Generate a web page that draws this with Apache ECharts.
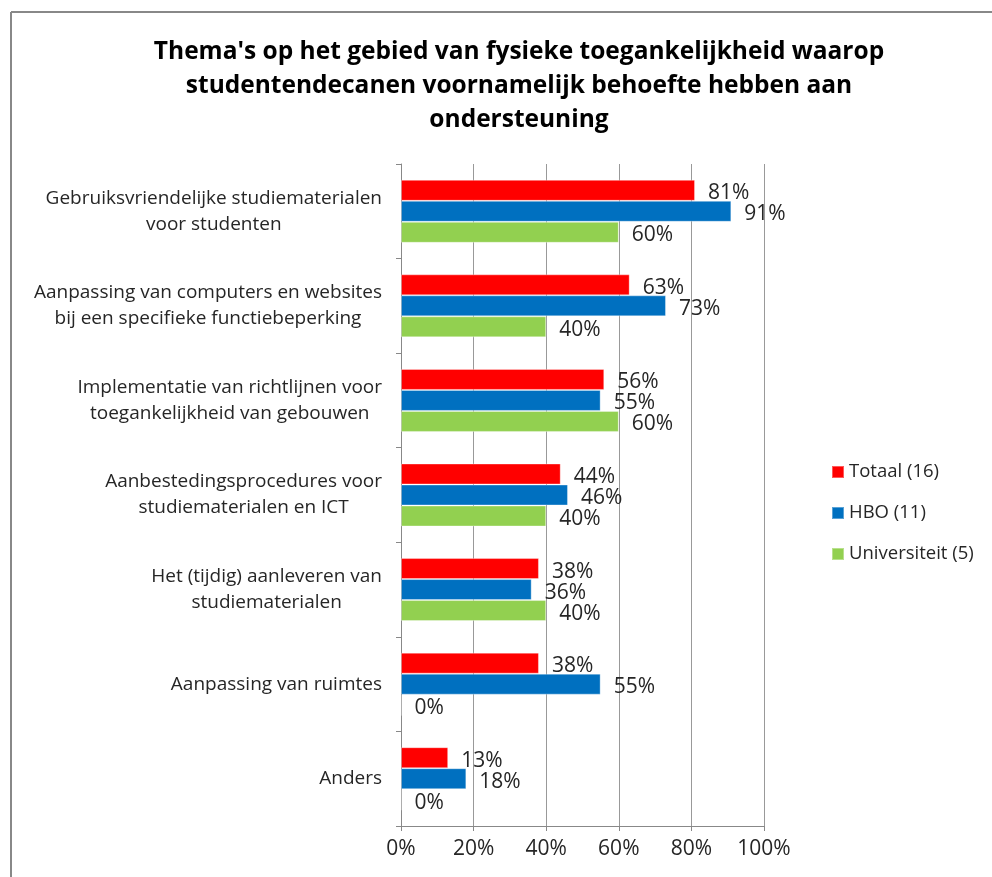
<!DOCTYPE html>
<html>
<head>
<meta charset="utf-8">
<script src="https://cdn.jsdelivr.net/npm/echarts@6/dist/echarts.min.js"></script>
<style>html,body{margin:0;padding:0;background:#fff}#c{width:992px;height:877px}</style>
</head>
<body>
<div id="c"></div>
<script>
var categories = [
  "Gebruiksvriendelijke studiematerialen\nvoor studenten",
  "Aanpassing van computers en websites\nbij een specifieke functiebeperking",
  "Implementatie van richtlijnen voor\ntoegankelijkheid van gebouwen",
  "Aanbestedingsprocedures voor\nstudiematerialen en ICT",
  "Het (tijdig) aanleveren van\nstudiematerialen",
  "Aanpassing van ruimtes",
  "Anders"
];
var seriesNames = ["Totaal (16)", "HBO (11)", "Universiteit (5)"];
var totaal = [81, 63, 56, 44, 38, 38, 13];
var hbo = [91, 73, 55, 46, 36, 55, 18];
var universiteit = [60, 40, 60, 40, 40, 0, 0];
var colors = ["#FF0000", "#0070C0", "#92D050"];
var FONT = "Open Sans";

var chart = echarts.init(document.getElementById('c'));
function mk(name, data, color) {
  return {
    name: name, type: 'bar', data: data,
    barWidth: 21, barGap: '0%',
    itemStyle: { color: color, borderColor: 'rgba(255,255,255,0.35)', borderWidth: 1 },
    label: { show: true, position: 'right', distance: 13, formatter: '{c}%',
      fontFamily: FONT, fontSize: 21, color: '#262626', offset: [0, 3] }
  };
}
chart.setOption({
  animation: false,
  textStyle: { fontFamily: FONT },
  title: {
    text: "Thema's op het gebied van fysieke toegankelijkheid waarop\nstudentendecanen voornamelijk behoefte hebben aan\nondersteuning",
    left: 514, top: 30, textAlign: 'center',
    textStyle: { fontFamily: FONT, fontWeight: 'bold', fontSize: 24.5, lineHeight: 34, color: '#000' }
  },
  legend: {
    orient: 'vertical', left: 826, top: 456,
    itemWidth: 12, itemHeight: 12, itemGap: 19, icon: 'rect',
    textStyle: { fontFamily: FONT, fontSize: 18.5, color: '#262626', lineHeight: 22 },
    data: seriesNames
  },
  grid: { left: 401, right: 228, top: 164, bottom: 51, containLabel: false },
  xAxis: {
    type: 'value', min: 0, max: 100, interval: 20,
    axisLine: { show: true, lineStyle: { color: '#888', width: 1 } },
    axisTick: { show: true, length: 5, lineStyle: { color: '#888' } },
    splitLine: { show: true, lineStyle: { color: '#999', width: 1 } },
    axisLabel: { formatter: '{value}%', fontFamily: FONT, fontSize: 21, color: '#262626', margin: 13 }
  },
  yAxis: {
    type: 'category', inverse: true, data: categories,
    axisLine: { show: true, lineStyle: { color: '#888', width: 1 } },
    axisTick: { show: true, length: 5, lineStyle: { color: '#888' } },
    axisLabel: {
      margin: 19, align: 'right', fontFamily: FONT, fontSize: 19, color: '#262626', lineHeight: 26,
      formatter: function (v) {
        return v.split('\n').map(function (s) { return '{c|' + s + '}'; }).join('\n');
      },
      rich: { c: { align: 'center', fontFamily: FONT, fontSize: 19, color: '#262626', lineHeight: 26 } }
    }
  },
  graphic: [
    { type: 'line', shape: { x1: 11, y1: 12, x2: 992, y2: 12 }, style: { stroke: '#888', lineWidth: 2 } },
    { type: 'line', shape: { x1: 11, y1: 12, x2: 11, y2: 877 }, style: { stroke: '#888', lineWidth: 2 } }
  ],
  series: [
    mk(seriesNames[0], totaal, colors[0]),
    mk(seriesNames[1], hbo, colors[1]),
    mk(seriesNames[2], universiteit, colors[2])
  ]
});
</script>
</body>
</html>
